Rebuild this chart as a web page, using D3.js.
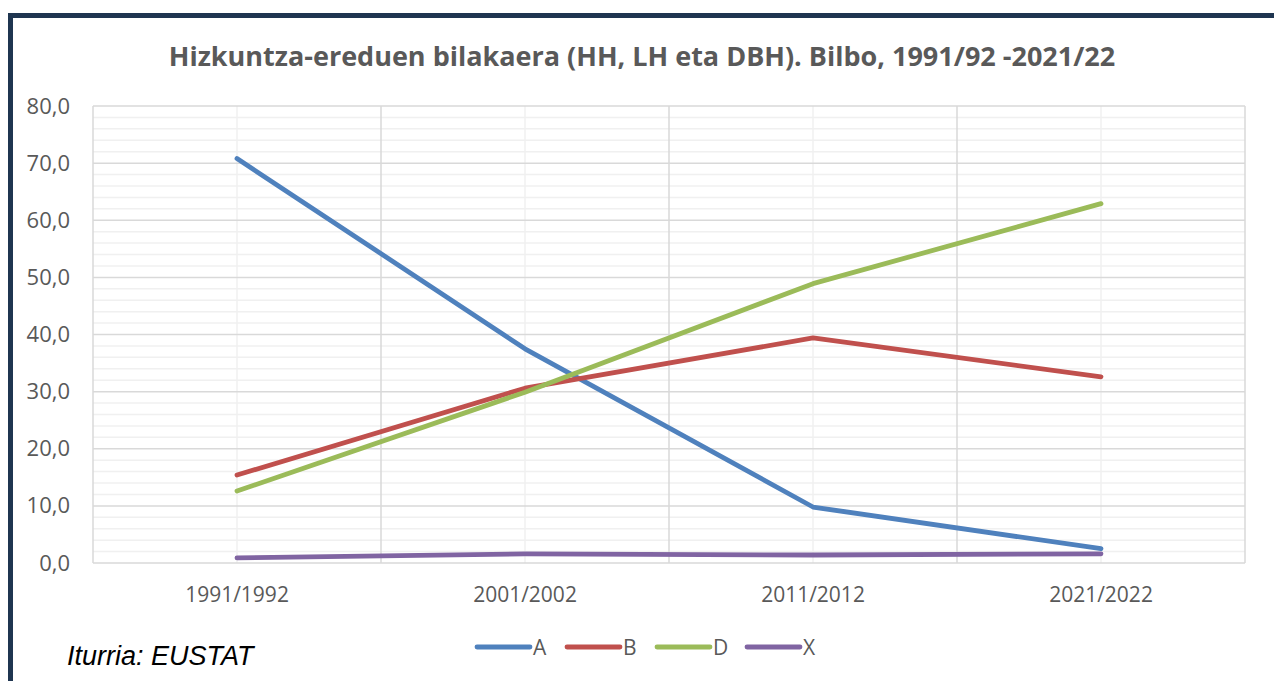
<!DOCTYPE html>
<html>
<head>
<meta charset="utf-8" />
<script src="https://d3js.org/d3.v7.min.js"></script>
<style>
  body { margin: 0; background: #fff; }
</style>
</head>
<body>
<div id="chart"></div>
<script>
const categories = ["1991/1992", "2001/2002", "2011/2012", "2021/2022"];
const seriesNames = ["A", "B", "D", "X"];
const valuesA = [70.8, 37.5, 9.8, 2.5];
const valuesB = [15.4, 30.6, 39.4, 32.6];
const valuesD = [12.6, 29.9, 48.9, 62.9];
const valuesX = [0.9, 1.6, 1.4, 1.6];
const yTicks = [0, 10, 20, 30, 40, 50, 60, 70, 80];
const colors = ["#4f81bd", "#c0504d", "#9bbb59", "#8064a2"];

const series = [valuesA, valuesB, valuesD, valuesX].map((v, i) => ({ name: seriesNames[i], values: v, color: colors[i] }));

const width = 1274, height = 681;
const m = { left: 93, right: 1245, top: 106, bottom: 563 };
const font = "'Open Sans', sans-serif";

const svg = d3.select("#chart").append("svg").attr("width", width).attr("height", height);

// frame
svg.append("rect").attr("x", 10.5).attr("y", 15.5).attr("width", 1290).attr("height", 700)
  .attr("fill", "#fff").attr("stroke", "#1f3550").attr("stroke-width", 5);

const x = d3.scaleBand().domain(categories).range([m.left, m.right]);
const y = d3.scaleLinear().domain([0, 80]).range([m.bottom, m.top]);

// minor horizontal gridlines
const minor = d3.range(0, 81, 2).filter(d => d % 10 !== 0);
svg.append("g").selectAll("line").data(minor).join("line")
  .attr("x1", m.left).attr("x2", m.right)
  .attr("y1", d => y(d)).attr("y2", d => y(d))
  .attr("stroke", "#f0f0f0").attr("stroke-width", 1.5);

// minor vertical gridlines at category centers
svg.append("g").selectAll("line").data(categories).join("line")
  .attr("x1", d => x(d) + x.bandwidth() / 2).attr("x2", d => x(d) + x.bandwidth() / 2)
  .attr("y1", m.top).attr("y2", m.bottom)
  .attr("stroke", "#f0f0f0").attr("stroke-width", 1.5);

// major horizontal gridlines
svg.append("g").selectAll("line").data(yTicks).join("line")
  .attr("x1", m.left).attr("x2", m.right)
  .attr("y1", d => y(d)).attr("y2", d => y(d))
  .attr("stroke", "#d9d9d9").attr("stroke-width", 1.5);

// major vertical gridlines at band edges
const edges = categories.map(c => x(c)).concat([m.right]);
svg.append("g").selectAll("line").data(edges).join("line")
  .attr("x1", d => d).attr("x2", d => d)
  .attr("y1", m.top).attr("y2", m.bottom)
  .attr("stroke", "#d9d9d9").attr("stroke-width", 1.5);

// y axis labels
const yAxis = d3.axisLeft(y).tickValues(yTicks).tickSize(0).tickPadding(23)
  .tickFormat(d => d3.format(".1f")(d).replace(".", ","));
const ya = svg.append("g").attr("transform", `translate(${m.left},0)`).call(yAxis);
ya.select(".domain").remove();
ya.selectAll("text").style("font-size", "22px").style("font-family", font).attr("fill", "#595959");

// x axis labels
const xAxis = d3.axisBottom(x).tickSize(0).tickPadding(24);
const xa = svg.append("g").attr("transform", `translate(0,${m.bottom})`).call(xAxis);
xa.select(".domain").remove();
xa.selectAll("text").style("font-size", "21px").style("font-family", font).attr("fill", "#595959");

// lines
const line = d3.line()
  .x((d, i) => x(categories[i]) + x.bandwidth() / 2)
  .y(d => y(d));
svg.append("g").selectAll("path").data(series).join("path")
  .attr("d", d => line(d.values))
  .attr("fill", "none").attr("stroke", d => d.color)
  .attr("stroke-width", 4.8).attr("stroke-linecap", "round").attr("stroke-linejoin", "round");

// title
svg.append("text").attr("x", 642).attr("y", 66).attr("text-anchor", "middle")
  .style("font-family", font).style("font-size", "27px").style("font-weight", "bold")
  .attr("fill", "#595959")
  .text("Hizkuntza-ereduen bilakaera (HH, LH eta DBH). Bilbo, 1991/92 -2021/22");

// legend
const lg = svg.append("g").selectAll("g").data(series).join("g")
  .attr("transform", (d, i) => `translate(${477 + i * 90},647)`);
lg.append("line").attr("x1", 0).attr("x2", 53).attr("y1", 0).attr("y2", 0)
  .attr("stroke", d => d.color).attr("stroke-width", 4.8).attr("stroke-linecap", "round");
lg.append("text").attr("x", 56).attr("y", 8)
  .style("font-family", font).style("font-size", "21px").attr("fill", "#595959")
  .text(d => d.name);

// source
svg.append("text").attr("x", 67).attr("y", 665)
  .style("font-family", "'Liberation Sans', Arial, sans-serif").style("font-style", "italic")
  .style("font-size", "27px").attr("fill", "#000")
  .text("Iturria: EUSTAT");
</script>
</body>
</html>
